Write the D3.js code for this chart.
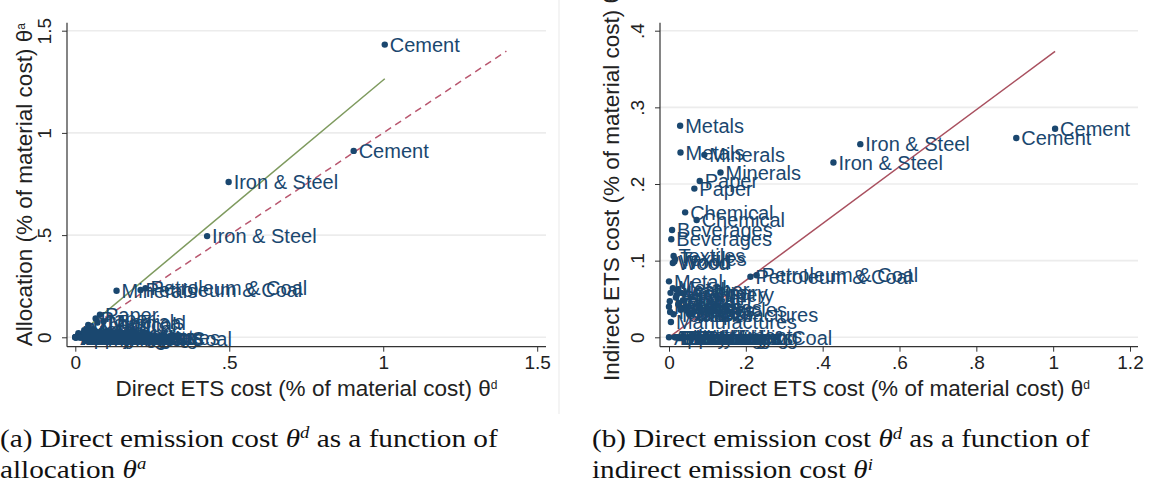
<!DOCTYPE html>
<html>
<head>
<meta charset="utf-8">
<script src="https://cdn.jsdelivr.net/npm/d3@7"></script>
<style>
  body { margin: 0; background: #fff; }
  svg text { font-family: "Liberation Sans", Arial, sans-serif; }
</style>
</head>
<body>
<svg id="chart" width="1149" height="486"></svg>
<script>
// sector labels, two observations per sector
var sectors = [
  "Cement", "Cement", "Iron & Steel", "Iron & Steel",
  "Petroleum & Coal", "Petroleum & Coal", "Minerals", "Minerals",
  "Metals", "Metals", "Paper", "Paper", "Chemical", "Chemical",
  "Beverages", "Beverages", "Textiles", "Textiles", "Wood", "Wood",
  "Metal", "Metal", "Machinery", "Machinery", "Food", "Food",
  "Vehicles", "Vehicles", "Plastics", "Plastics",
  "Manufactures", "Manufactures", "Electrical", "Electrical",
  "Furniture", "Furniture", "Printing", "Printing", "Mining & Coal", "Apparel",
  "Rubber", "Rubber", "Glass", "Glass", "Tobacco", "Tobacco",
  "Leather", "Leather", "Electronics", "Electronics",
  "Instruments", "Instruments", "Ships", "Ships",
  "Publishing", "Publishing", "Dairy", "Dairy"
];
// direct ETS cost (% of material cost), theta d
var directCost = [
  1.005, 0.904, 0.498, 0.428,
  0.212, 0.228, 0.134, 0.092,
  0.029, 0.030, 0.080, 0.066, 0.042, 0.072,
  0.008, 0.006, 0.012, 0.016, 0.010, 0.014,
  0.000, 0.010, 0.004, 0.020, 0.002, 0.024,
  0.035, 0.100, 0.000, 0.030,
  0.005, 0.060, 0.022, 0.040,
  0.050, 0.070, 0.055, 0.075, 0.088, 0.000,
  0.018, 0.036, 0.026, 0.044, 0.003, 0.012,
  0.020, 0.032, 0.015, 0.028,
  0.038, 0.062, 0.045, 0.052,
  0.058, 0.082, 0.018, 0.034
];
// allocation (% of material cost), theta a
var allocation = [
  1.432, 0.912, 0.760, 0.495,
  0.232, 0.240, 0.228, 0.078,
  0.035, 0.022, 0.110, 0.092, 0.060, 0.072,
  0.006, 0.004, 0.015, 0.012, 0.020, 0.016,
  0.000, 0.008, 0.002, 0.010, 0.000, 0.004,
  0.000, 0.002, 0.000, 0.003,
  0.000, 0.000, 0.000, 0.000,
  0.000, 0.000, 0.000, -0.004, -0.006, 0.000,
  0.000, 0.002, 0.006, 0.004, 0.000, 0.000,
  0.000, 0.000, 0.000, 0.000,
  0.000, 0.002, 0.000, 0.000,
  0.002, 0.000, 0.000, 0.000
];
// indirect ETS cost (% of material cost), theta i
var indirectCost = [
  0.272, 0.260, 0.252, 0.228,
  0.079, 0.081, 0.215, 0.238,
  0.276, 0.241, 0.204, 0.194, 0.163, 0.153,
  0.140, 0.128, 0.106, 0.102, 0.097, 0.099,
  0.073, 0.064, 0.058, 0.055, 0.047, 0.043,
  0.038, 0.036, 0.040, 0.036,
  0.020, 0.030, 0.000, 0.000,
  0.000, 0.000, 0.000, 0.000, 0.000, 0.000,
  0.052, 0.048, 0.044, 0.040, 0.033, 0.030,
  0.062, 0.058, 0.000, 0.000,
  0.000, 0.002, 0.035, 0.031,
  0.000, 0.000, 0.000, 0.000
];

// reference lines
var allocFitLine = [[0, 0], [1.005, 1.265]];
var diagonalLine = [[0, 0], [1.4, 1.4]];
var indirectFitLine = [[0, 0], [1.005, 0.373]];

var leftXTicks = [0, 0.5, 1, 1.5], leftXLabels = ["0", ".5", "1", "1.5"];
var leftYTicks = [0, 0.5, 1, 1.5], leftYLabels = ["0", ".5", "1", "1.5"];
var rightXTicks = [0, 0.2, 0.4, 0.6, 0.8, 1, 1.2],
    rightXLabels = ["0", ".2", ".4", ".6", ".8", "1", "1.2"];
var rightYTicks = [0, 0.1, 0.2, 0.3, 0.4],
    rightYLabels = ["0", ".1", ".2", ".3", ".4"];

var navy = "#1a476f";
var svg = d3.select("#chart");

// faint frame of the right picture
svg.append("line")
    .attr("x1", 559).attr("x2", 559).attr("y1", 0).attr("y2", 414)
    .attr("stroke", "#f1f1f1").attr("stroke-width", 1.5);

function drawPanel(p) {
  var g = svg.append("g");

  var x = d3.scaleLinear().domain(p.xDomain).range(p.xRange);
  var y = d3.scaleLinear().domain(p.yDomain).range([337.3, 30.7]);

  // gridlines
  g.append("g").selectAll("line")
      .data(p.yTicks)
    .enter().append("line")
      .attr("x1", p.left).attr("x2", p.right)
      .attr("y1", function(d) { return y(d); })
      .attr("y2", function(d) { return y(d); })
      .attr("stroke", "#ececec").attr("stroke-width", 1.6);

  // reference lines
  var line = d3.line().x(function(d) { return x(d[0]); }).y(function(d) { return y(d[1]); });
  p.lines.forEach(function(l) {
    g.append("path")
        .datum(l.data)
        .attr("d", line)
        .attr("fill", "none")
        .attr("stroke", l.color)
        .attr("stroke-width", 1.5)
        .attr("stroke-dasharray", l.dash || null);
  });

  // points and labels
  var pts = sectors.map(function(s, i) { return {label: s, x: directCost[i], y: p.yValues[i]}; });

  g.append("g").selectAll("circle")
      .data(pts)
    .enter().append("circle")
      .attr("cx", function(d) { return x(d.x); })
      .attr("cy", function(d) { return y(d.y); })
      .attr("r", 3.2)
      .attr("fill", navy);

  g.append("g").selectAll("text")
      .data(pts)
    .enter().append("text")
      .attr("x", function(d) { return x(d.x) + 5; })
      .attr("y", function(d) { return y(d.y); })
      .attr("dy", "0.36em")
      .attr("fill", navy)
      .style("font-size", "20px")
      .text(function(d) { return d.label; });

  // axes
  var xAxis = g.append("g")
      .attr("transform", "translate(0," + p.bottom + ")")
      .call(d3.axisBottom(x).tickValues(p.xTicks).tickSizeOuter(0).tickSize(5)
        .tickFormat(function(d, i) { return p.xLabels[i]; }));
  xAxis.select(".domain").remove();
  xAxis.selectAll("line").attr("stroke", "#333");
  xAxis.selectAll("text").style("font-size", "19px").attr("fill", "#222").attr("y", 9);

  var yAxis = g.append("g")
      .attr("transform", "translate(" + p.left + ",0)")
      .call(d3.axisLeft(y).tickValues(p.yTicks).tickSizeOuter(0).tickSize(5)
        .tickFormat(function(d, i) { return p.yLabels[i]; }));
  yAxis.select(".domain").remove();
  yAxis.selectAll("line").attr("stroke", "#333");
  yAxis.selectAll("text")
      .style("font-size", "19px").attr("fill", "#222")
      .style("text-anchor", "middle")
      .attr("x", 0).attr("y", -16).attr("dy", 0)
      .attr("transform", "rotate(-90)");

  // plot region edges
  g.append("line").attr("x1", p.left).attr("x2", p.left).attr("y1", 22.7).attr("y2", p.bottom)
      .attr("stroke", "#333").attr("stroke-width", 1.2);
  g.append("line").attr("x1", p.left).attr("x2", p.right).attr("y1", p.bottom).attr("y2", p.bottom)
      .attr("stroke", "#333").attr("stroke-width", 1.2);

  // axis titles
  var xt = g.append("text")
      .attr("x", (p.left + p.right) / 2).attr("y", 396)
      .attr("text-anchor", "middle").attr("fill", "#222")
      .style("font-size", "22.5px");
  xt.append("tspan").text("Direct ETS cost (% of material cost) \u03b8");
  xt.append("tspan").attr("baseline-shift", "super").style("font-size", "12px").text("d");

  var yt = g.append("text")
      .attr("transform", "translate(" + p.yTitleX + ",184.7) rotate(-90)")
      .attr("text-anchor", "middle").attr("fill", "#222")
      .style("font-size", "22.5px");
  yt.append("tspan").text(p.yTitle + " \u03b8");
  yt.append("tspan").attr("baseline-shift", "super").style("font-size", "12px").text(p.ySup);
}

drawPanel({
  xDomain: [0, 1.5], xRange: [75.3, 537.2], yDomain: [0, 1.5],
  left: 67, right: 546, bottom: 346.7,
  xTicks: leftXTicks, xLabels: leftXLabels, yTicks: leftYTicks, yLabels: leftYLabels,
  yValues: allocation,
  yTitle: "Allocation (% of material cost)", ySup: "a", yTitleX: 32,
  lines: [
    {data: allocFitLine, color: "#7e9a5e"},
    {data: diagonalLine, color: "#b9576f", dash: "7,5"}
  ]
});

drawPanel({
  xDomain: [0, 1.2], xRange: [669, 1130], yDomain: [0, 0.4],
  left: 660, right: 1138, bottom: 346.7,
  xTicks: rightXTicks, xLabels: rightXLabels, yTicks: rightYTicks, yLabels: rightYLabels,
  yValues: indirectCost,
  yTitle: "Indirect ETS cost (% of material cost)", ySup: "i", yTitleX: 619,
  lines: [
    {data: indirectFitLine, color: "#a9505f"}
  ]
});

// captions
var captions = [
  {x: 0, lines: [["(a) Direct emission cost ", "d", " as a function of"], ["allocation ", "a", ""]]},
  {x: 592, lines: [["(b) Direct emission cost ", "d", " as a function of"], ["indirect emission cost ", "i", ""]]}
];
captions.forEach(function(c) {
  var g = svg.append("g").attr("transform", "translate(" + c.x + ",0)");
  var texts = c.lines.map(function(l, i) {
    var t = g.append("text")
        .attr("x", 0).attr("y", 447 + i * 31)
        .attr("fill", "#111")
        .style("font-family", "'Liberation Serif', 'Times New Roman', serif")
        .style("font-size", "25px");
    t.append("tspan").text(l[0]);
    t.append("tspan").style("font-style", "italic").text("\u03b8");
    t.append("tspan").attr("baseline-shift", "super").style("font-style", "italic").style("font-size", "16px").text(l[1]);
    if (l[2]) t.append("tspan").attr("baseline-shift", "0").text(l[2]);
    return t;
  });
  var w = texts[0].node().getComputedTextLength();
  var s = 498 / w;
  texts.forEach(function(t) { t.attr("transform", "scale(" + s + ",1)"); });
});
</script>
</body>
</html>
